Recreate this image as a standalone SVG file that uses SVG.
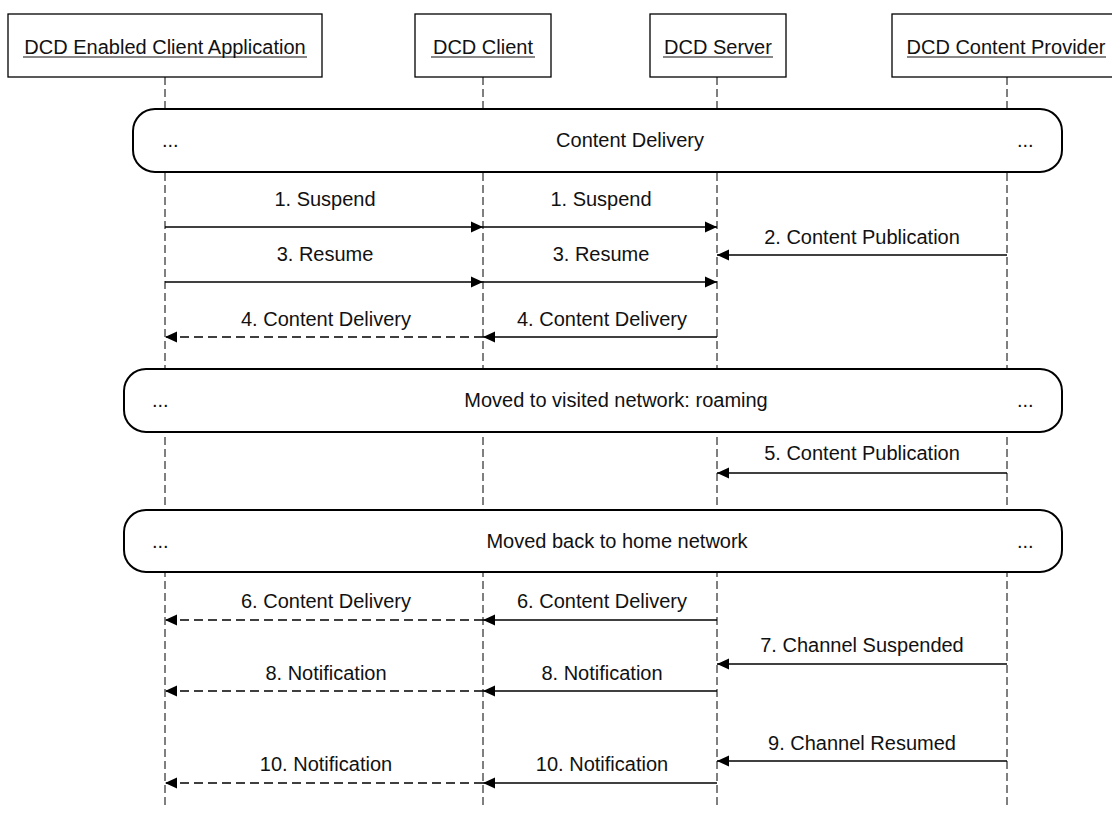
<svg xmlns="http://www.w3.org/2000/svg" width="1112" height="825" viewBox="0 0 1112 825">
<style>
text{font-family:"Liberation Sans",Arial,sans-serif;font-size:20px;fill:#111;}
.mid{text-anchor:middle;}
.box{fill:#fff;stroke:#000;stroke-width:1.3;}
.life{stroke:#000;stroke-width:1;stroke-dasharray:8,4;fill:none;}
.frame{fill:#fff;stroke:#000;stroke-width:2;}
.msg{stroke:#000;stroke-width:1.3;fill:none;marker-end:url(#ah);}
.ret{stroke:#000;stroke-width:1.3;fill:none;stroke-dasharray:9,5;marker-end:url(#ah);}
.ul{stroke:#111;stroke-width:1.2;}
</style>
<defs>
<marker id="ah" viewBox="0 0 12 12" refX="12" refY="6" markerWidth="12" markerHeight="12" markerUnits="userSpaceOnUse" orient="auto">
<path d="M0,0.5 L12,6 L0,11.5 Z" fill="#000"/>
</marker>
</defs>
<rect width="1112" height="825" fill="#fff"/>

<g id="lifelines">
<line class="life" x1="165" y1="77" x2="165" y2="805"/>
<line class="life" x1="483" y1="77" x2="483" y2="805"/>
<line class="life" x1="717" y1="77" x2="717" y2="805"/>
<line class="life" x1="1007" y1="77" x2="1007" y2="805"/>
</g>

<g id="node-app">
<rect class="box" x="8" y="14" width="314" height="63"/>
<text class="mid" x="165" y="54">DCD Enabled Client Application</text>
<line class="ul" x1="23" y1="57" x2="307" y2="57"/>
</g>
<g id="node-client">
<rect class="box" x="415" y="14" width="136" height="63"/>
<text class="mid" x="483" y="54">DCD Client</text>
<line class="ul" x1="431" y1="57" x2="535" y2="57"/>
</g>
<g id="node-server">
<rect class="box" x="650" y="14" width="136" height="63"/>
<text class="mid" x="718" y="54">DCD Server</text>
<line class="ul" x1="663" y1="57" x2="773" y2="57"/>
</g>
<g id="node-provider">
<rect class="box" x="892" y="14" width="240" height="63"/>
<text class="mid" x="1006" y="54">DCD Content Provider</text>
<line class="ul" x1="907" y1="57" x2="1106" y2="57"/>
</g>

<g id="frame-content-delivery">
<rect class="frame" x="133" y="109" width="929" height="63" rx="22" ry="22"/>
<text x="162" y="147">...</text>
<text class="mid" x="630" y="147">Content Delivery</text>
<text x="1017" y="147">...</text>
</g>
<g id="frame-roaming">
<rect class="frame" x="124" y="369" width="938" height="63" rx="22" ry="22"/>
<text x="152" y="407">...</text>
<text class="mid" x="616" y="407">Moved to visited network: roaming</text>
<text x="1017" y="407">...</text>
</g>
<g id="frame-home">
<rect class="frame" x="124" y="510" width="938" height="62" rx="22" ry="22"/>
<text x="152" y="548">...</text>
<text class="mid" x="617" y="548">Moved back to home network</text>
<text x="1017" y="548">...</text>
</g>

<g id="connectors">
<line class="msg" x1="165" y1="227" x2="483" y2="227"/>
<line class="msg" x1="483" y1="227" x2="717" y2="227"/>
<line class="msg" x1="1007" y1="255" x2="717" y2="255"/>
<line class="msg" x1="165" y1="282" x2="483" y2="282"/>
<line class="msg" x1="483" y1="282" x2="717" y2="282"/>
<line class="ret" x1="483" y1="337" x2="165" y2="337"/>
<line class="msg" x1="717" y1="337" x2="483" y2="337"/>
<line class="msg" x1="1007" y1="473" x2="717" y2="473"/>
<line class="ret" x1="483" y1="620" x2="165" y2="620"/>
<line class="msg" x1="717" y1="620" x2="483" y2="620"/>
<line class="msg" x1="1007" y1="664" x2="717" y2="664"/>
<line class="ret" x1="483" y1="691" x2="165" y2="691"/>
<line class="msg" x1="717" y1="691" x2="483" y2="691"/>
<line class="msg" x1="1007" y1="761" x2="717" y2="761"/>
<line class="ret" x1="483" y1="783" x2="165" y2="783"/>
<line class="msg" x1="717" y1="783" x2="483" y2="783"/>
</g>

<g id="labels">
<text class="mid" x="325" y="206">1. Suspend</text>
<text class="mid" x="601" y="206">1. Suspend</text>
<text class="mid" x="862" y="244">2. Content Publication</text>
<text class="mid" x="325" y="261">3. Resume</text>
<text class="mid" x="601" y="261">3. Resume</text>
<text class="mid" x="326" y="326">4. Content Delivery</text>
<text class="mid" x="602" y="326">4. Content Delivery</text>
<text class="mid" x="862" y="460">5. Content Publication</text>
<text class="mid" x="326" y="608">6. Content Delivery</text>
<text class="mid" x="602" y="608">6. Content Delivery</text>
<text class="mid" x="862" y="652">7. Channel Suspended</text>
<text class="mid" x="326" y="680">8. Notification</text>
<text class="mid" x="602" y="680">8. Notification</text>
<text class="mid" x="862" y="750">9. Channel Resumed</text>
<text class="mid" x="326" y="771">10. Notification</text>
<text class="mid" x="602" y="771">10. Notification</text>
</g>
</svg>
